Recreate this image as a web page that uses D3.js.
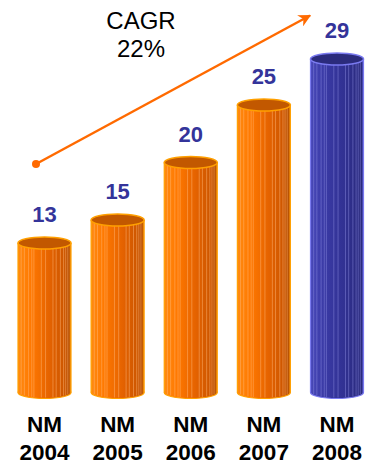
<!DOCTYPE html>
<html><head><meta charset="utf-8">
<script src="https://cdn.jsdelivr.net/npm/d3@7"></script>
<style>html,body{margin:0;padding:0;background:#fff;}svg{display:block;font-family:"Liberation Sans",Arial,sans-serif;}</style>
</head><body>
<svg id="c" width="365" height="466"></svg>
<script>
const categories = ["NM 2004","NM 2005","NM 2006","NM 2007","NM 2008"];
const values = [13, 15, 20, 25, 29];
const highlight = [false, false, false, false, true];
const cagrLines = ["CAGR", "22%"];

const svg = d3.select("#c");
const x = d3.scalePoint().domain(categories).range([44.5, 337]);
const y = d3.scaleLinear().domain([0, 29]).range([392.5, 59]);
const bw = 53, ry = 6;

const defs = svg.append("defs");
const og = defs.append("linearGradient").attr("id","gOr");
[["0%","#ff8a10"],["25%","#ff7800"],["60%","#e46200"],["88%","#cc5600"],["96%","#b44c00"],["100%","#f08a10"]]
  .forEach(([o,c])=>og.append("stop").attr("offset",o).attr("stop-color",c));
const bg = defs.append("linearGradient").attr("id","gBl");
[["0%","#4848b8"],["25%","#3a3aa6"],["60%","#323294"],["88%","#2c2c82"],["96%","#28287a"],["100%","#5a5ad0"]]
  .forEach(([o,c])=>bg.append("stop").attr("offset",o).attr("stop-color",c));

const stripes = [0.06,0.12,0.2,0.26,0.3,0.44,0.52,0.66,0.72,0.8,0.86,0.9,0.94];

const g = svg.append("g");
categories.forEach((c,i)=>{
  const cx = x(c), top = y(values[i]), base = y(0);
  const blue = highlight[i];
  const gr = g.append("g");
  gr.append("ellipse").attr("cx",cx).attr("cy",base).attr("rx",bw/2).attr("ry",ry)
    .attr("fill", blue ? "url(#gBl)" : "url(#gOr)")
    .attr("stroke", blue ? "#7a7af0" : "#ffa000").attr("stroke-width",1.2);
  gr.append("rect").attr("x",cx-bw/2).attr("y",top).attr("width",bw).attr("height",base-top)
    .attr("fill", blue ? "url(#gBl)" : "url(#gOr)");
  stripes.forEach(s=>{
    gr.append("line").attr("x1",cx-bw/2+s*bw).attr("x2",cx-bw/2+s*bw)
      .attr("y1",top).attr("y2",base+ry*Math.sqrt(1-Math.pow(2*s-1,2))-1)
      .attr("stroke", blue ? "#8c8ce0" : "#ffb878").attr("stroke-opacity",0.6).attr("stroke-width",0.8);
  });
  gr.append("line").attr("x1",cx-bw/2).attr("x2",cx-bw/2).attr("y1",top).attr("y2",base)
    .attr("stroke", blue ? "#7a7af0" : "#ffa000").attr("stroke-width",1.2);
  gr.append("line").attr("x1",cx+bw/2).attr("x2",cx+bw/2).attr("y1",top).attr("y2",base)
    .attr("stroke", blue ? "#7a7af0" : "#ffa000").attr("stroke-width",1.2);
  gr.append("ellipse").attr("cx",cx).attr("cy",top).attr("rx",bw/2).attr("ry",ry)
    .attr("fill", blue ? "#2b2b7c" : "#c25800")
    .attr("stroke", blue ? "#7a7af0" : "#ffa000").attr("stroke-width",1.6);
  g.append("text").attr("x",cx).attr("y",top-21).attr("text-anchor","middle")
    .attr("font-size",22).attr("font-weight","bold").attr("fill","#34349a").text(values[i]);
  const parts = c.split(" ");
  const t = g.append("text").attr("text-anchor","middle").attr("font-size",22.5)
    .attr("font-weight","bold").attr("fill","#000");
  t.append("tspan").attr("x",cx).attr("y",432).text(parts[0]);
  t.append("tspan").attr("x",cx).attr("y",460).text(parts[1]);
});

defs.append("marker").attr("id","ah").attr("viewBox","0 0 10 10").attr("refX",9).attr("refY",5)
  .attr("markerWidth",5).attr("markerHeight",5).attr("orient","auto")
  .append("path").attr("d","M0,0 L10,5 L0,10 L3,5 Z").attr("fill","#ff6a00");
svg.append("line").attr("x1",36).attr("y1",164).attr("x2",310).attr("y2",15.5)
  .attr("stroke","#ff6a00").attr("stroke-width",2.5).attr("marker-end","url(#ah)");
svg.append("circle").attr("cx",36).attr("cy",164).attr("r",4).attr("fill","#ff6a00");

const ct = svg.append("text").attr("text-anchor","middle").attr("font-size",24).attr("fill","#000");
ct.append("tspan").attr("x",141).attr("y",29).text(cagrLines[0]);
ct.append("tspan").attr("x",141).attr("y",57).text(cagrLines[1]);
</script>
</body></html>
